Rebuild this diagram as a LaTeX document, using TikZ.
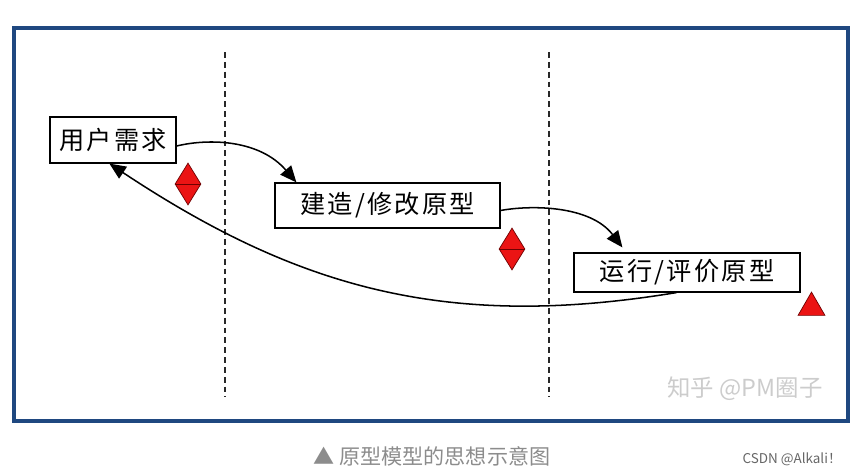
\documentclass[tikz,border=0pt]{standalone}
\usepackage{fontspec}
\newfontfamily\cjk{Noto Sans CJK SC}
\newfontfamily\cjkwide[LetterSpace=9]{Noto Sans CJK SC}
\definecolor{protoFrame}{RGB}{31,72,128}
\definecolor{protoRed}{RGB}{235,20,20}
\definecolor{protoDark}{RGB}{110,0,0}
\definecolor{protoDash}{RGB}{40,40,40}
\definecolor{protoCap}{RGB}{140,140,140}
\usetikzlibrary{arrows.meta,shapes.geometric,calc}

\begin{document}
\begin{tikzpicture}[x=0.03cm, y=-0.03cm,
    stage/.style={rectangle, draw=black, line width=1pt, fill=white, inner sep=0pt,
                  font=\cjkwide\fontsize{21.5}{24}\selectfont},
    gem/.style={diamond, draw=protoDark, fill=protoRed, line width=0.6pt, inner sep=0pt,
                minimum width=0.78cm, minimum height=1.26cm},
    flow/.style={line width=1.3pt, -{Triangle[length=14pt,width=12pt]}},
    divider/.style={protoDash, line width=2pt, dash pattern=on 5pt off 3.4pt}
  ]
  \useasboundingbox (0,0) rectangle (856,473);
  \draw[protoFrame, line width=3pt] (14,28) rectangle (848,421);

  \draw[divider] (225,52) -- (225,397);
  \draw[divider] (549,52) -- (549,397);

  \node[stage, minimum width=3.78cm, minimum height=1.38cm] (req)   at (113,140)   {用户需求};
  \node[stage, minimum width=6.75cm, minimum height=1.35cm] (build) at (387.5,205.5) {建造/修改原型};
  \node[stage, minimum width=6.78cm, minimum height=1.17cm] (run)   at (687,272.5) {运行/评价原型};

  \node[gem] (gemA) at (188,184) {};
  \draw[protoDark, line width=0.6pt] (gemA.west) -- (gemA.east);
  \node[gem] (gemB) at (512,249) {};
  \draw[protoDark, line width=0.6pt] (gemB.west) -- (gemB.east);
  \node[regular polygon, regular polygon sides=3, draw=protoDark, fill=protoRed,
        line width=0.6pt, inner sep=0pt, minimum size=0.93cm] (tri) at (811.5,307.6) {};

  \draw[flow] ($(req.east)+(0,6)$) .. controls (210,138) and (260,140) .. ($(build.north west)+(22,0)$);
  \draw[flow] ($(build.east)+(0,5)$) .. controls (530,205) and (590,205) .. ($(run.north west)+(49,-5)$);
  \draw[flow] ($(run.south west)+(103,0)$) .. controls (450,330) and (300,290) .. ($(req.south west)+(60,0)$);

  \node[font=\cjk\fontsize{20}{24}\selectfont, text=black!20] (mark) at (745,389) {知乎 @PM圈子};
  \node[font=\cjk\fontsize{18}{21}\selectfont, text=protoCap] (cap) at (432,456) {▲ 原型模型的思想示意图};
  \node[font=\cjk\fontsize{11.5}{14}\selectfont, text=black!60] (src) at (792,459) {CSDN @Alkali！};
\end{tikzpicture}
\end{document}
